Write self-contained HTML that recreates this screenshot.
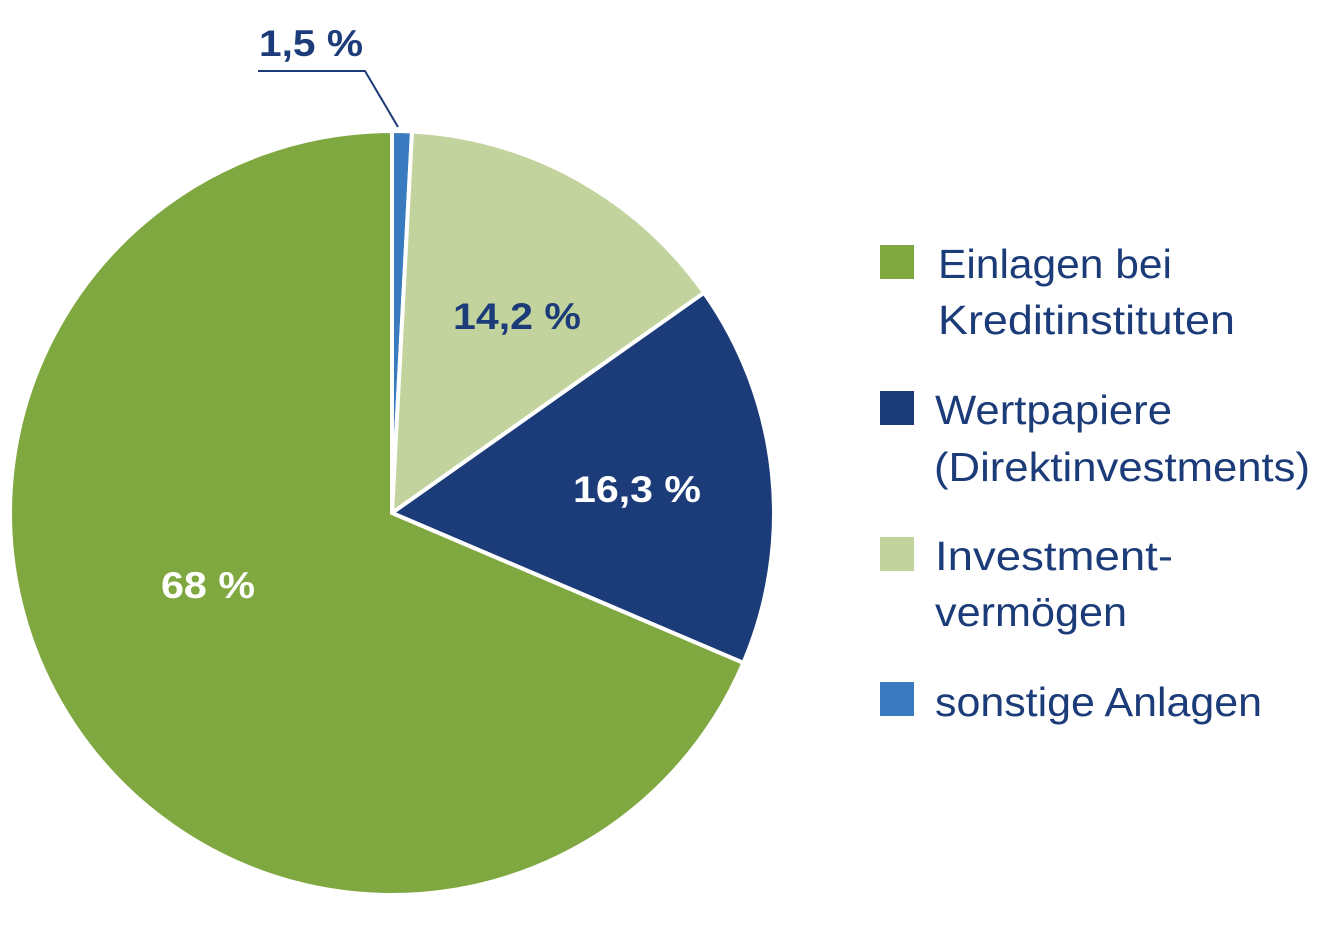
<!DOCTYPE html>
<html><head><meta charset="utf-8"><style>html,body{margin:0;padding:0;background:#fff}</style></head>
<body>
<svg width="1326" height="928" viewBox="0 0 1326 928" xmlns="http://www.w3.org/2000/svg" font-family="Liberation Sans, sans-serif">
<g stroke="#fff" stroke-width="4" stroke-linejoin="miter">
<path d="M392,513 L392,131 A382,382 0 0 1 412,131.5 Z" fill="#3a7bc0"/>
<path d="M392,513 L412,131.5 A382,382 0 0 1 704.1,292.8 Z" fill="#c3d39e"/>
<path d="M392,513 L704.1,292.8 A382,382 0 0 1 743.4,662.9 Z" fill="#1b3c78"/>
<path d="M392,513 L743.4,662.9 A382,382 0 1 1 392,131 Z" fill="#80a840"/>
</g>
<polyline points="258,71 365,71 398,127" fill="none" stroke="#1b3c78" stroke-width="2"/>
<g font-weight="bold" font-size="37">
<text x="259" y="56" fill="#1b3c78" textLength="104" lengthAdjust="spacingAndGlyphs">1,5 %</text>
<text x="453" y="329" fill="#1b3c78" textLength="128" lengthAdjust="spacingAndGlyphs">14,2 %</text>
<text x="573" y="502" fill="#fff" textLength="128" lengthAdjust="spacingAndGlyphs">16,3 %</text>
<text x="161" y="598" fill="#fff" textLength="94" lengthAdjust="spacingAndGlyphs">68 %</text>
</g>
<rect x="880" y="245" width="34" height="34" fill="#80a840"/>
<rect x="880" y="391" width="34" height="34" fill="#1b3c78"/>
<rect x="880" y="537" width="34" height="34" fill="#c3d39e"/>
<rect x="880" y="682" width="34" height="34" fill="#3a7bc0"/>
<g font-size="41" fill="#1b3c78" lengthAdjust="spacingAndGlyphs">
<text x="938" y="278" textLength="234" lengthAdjust="spacingAndGlyphs">Einlagen bei</text>
<text x="938" y="334" textLength="297" lengthAdjust="spacingAndGlyphs">Kreditinstituten</text>
<text x="935" y="424" textLength="237" lengthAdjust="spacingAndGlyphs">Wertpapiere</text>
<text x="934" y="481" textLength="376" lengthAdjust="spacingAndGlyphs">(Direktinvestments)</text>
<text x="935" y="570" textLength="238" lengthAdjust="spacingAndGlyphs">Investment-</text>
<text x="935" y="626" textLength="192" lengthAdjust="spacingAndGlyphs">vermögen</text>
<text x="935" y="716" textLength="327" lengthAdjust="spacingAndGlyphs">sonstige Anlagen</text>
</g>
</svg>
</body></html>
